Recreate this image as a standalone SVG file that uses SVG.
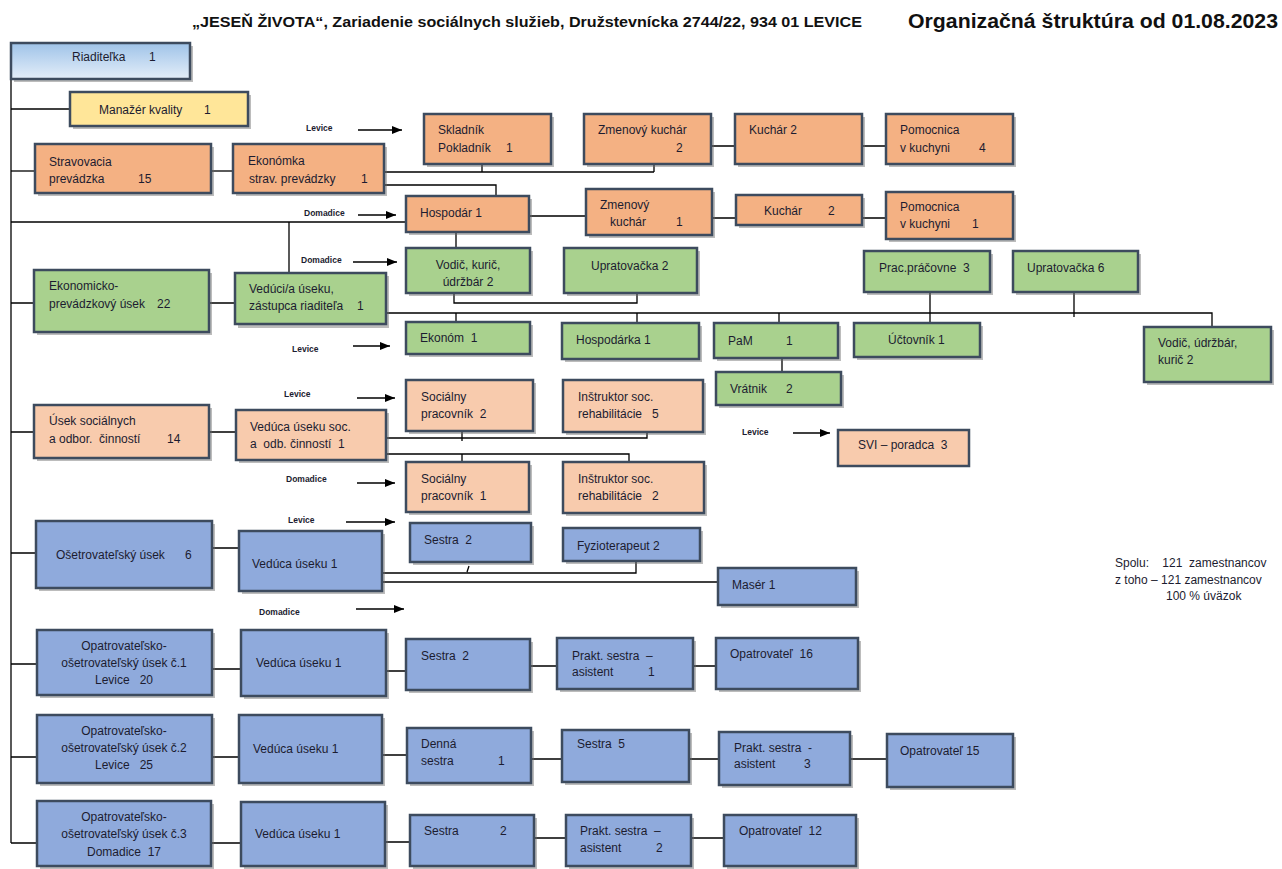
<svg xmlns="http://www.w3.org/2000/svg" width="1282" height="869" viewBox="0 0 1282 869" xml:space="preserve">
<defs>
<linearGradient id="gBlue" x1="0" y1="0" x2="0" y2="1">
<stop offset="0" stop-color="#9fc3e8"/>
<stop offset="1" stop-color="#e4eef9"/>
</linearGradient>
<marker id="arr" markerWidth="10" markerHeight="8" refX="10" refY="4" orient="auto" markerUnits="userSpaceOnUse">
<path d="M0,0 L10,4 L0,8 z" fill="#000"/>
</marker>
</defs>
<style>
.sh{fill:#6b6b6b;opacity:.45}
.b{stroke:#3d4b5e;stroke-width:2.5}
.or{fill:#f4b183}
.gr{fill:#a9d18e}
.sa{fill:#f8cbad}
.bl{fill:#8faadc}
.ye{fill:#ffe699}
.rb{fill:url(#gBlue)}
.t{font-family:"Liberation Sans",Arial,sans-serif;font-size:12px;fill:#1c1c30;white-space:pre}
.c{text-anchor:middle}
.lb{font-family:"Liberation Sans",Arial,sans-serif;font-size:8.5px;font-weight:bold;fill:#1c1c30}
.ln{fill:none;stroke:#000;stroke-width:1.3}
.ar{fill:none;stroke:#000;stroke-width:1.5}
.hd{font-family:"Liberation Sans",Arial,sans-serif;fill:#111}
</style>
<rect width="1282" height="869" fill="#fff"/>

<text class="hd" x="192" y="27" font-size="15.5" font-weight="bold" textLength="670" lengthAdjust="spacingAndGlyphs">„JESEŇ ŽIVOTA“, Zariadenie sociálnych služieb, Družstevnícka 2744/22, 934 01 LEVICE</text>
<text class="hd" x="908" y="28" font-size="21" font-weight="bold" textLength="370" lengthAdjust="spacingAndGlyphs">Organizačná štruktúra od 01.08.2023</text>

<g id="connectors">
<path class="ln" d="M11 79 V843"/>
<path class="ln" d="M11 109 H70"/>
<path class="ln" d="M11 171 H35"/>
<path class="ln" d="M211 171 H233"/>
<path class="ln" d="M11 222 H406"/>
<path class="ln" d="M289 222 V272"/>
<path class="ln" d="M384 172 H654 M482 164 V172 M654 164 V172"/>
<path class="ln" d="M384 185 H496 V196"/>
<path class="ln" d="M711 146 H735 M862 146 H886"/>
<path class="ln" d="M529 216 H586 M712 218 H736 M862 218 H886"/>
<path class="ln" d="M456 232 V248"/>
<path class="ln" d="M454 293 V303 H637 V293"/>
<path class="ln" d="M11 303 H34 M209 303 H235"/>
<path class="ln" d="M386 313 H1212 V327"/>
<path class="ln" d="M456 313 V322 M637 313 V323 M779 313 V323"/>
<path class="ln" d="M930 292 V323 M1074 292 V317"/>
<path class="ln" d="M782 358 V372"/>
<path class="ln" d="M11 432 H34 M209 432 H236"/>
<path class="ln" d="M386 438 H647 V432 M462 431 V441"/>
<path class="ln" d="M386 454 H629 V462 M462 454 V462"/>
<path class="ln" d="M11 553 H36 M212 548 H239"/>
<path class="ln" d="M382 573 H636 V561 M467 572 L469 566"/>
<path class="ln" d="M382 582 H718"/>
<path class="ln" d="M11 664 H37 M212 669 H241 M386 671 H406 M530 666 H557 M693 666 H716"/>
<path class="ln" d="M11 757 H37 M212 757 H239 M382 755 H407 M531 759 H562 M689 759 H719 M850 759 H887"/>
<path class="ln" d="M11 843 H37 M211 843 H241 M385 842 H410 M534 838 H566 M691 838 H724"/>
<path class="ar" marker-end="url(#arr)" d="M358 130 H402"/>
<path class="ar" marker-end="url(#arr)" d="M358 215 H396"/>
<path class="ar" marker-end="url(#arr)" d="M353 262 H397"/>
<path class="ar" marker-end="url(#arr)" d="M353 346 H390"/>
<path class="ar" marker-end="url(#arr)" d="M357 398 H395"/>
<path class="ar" marker-end="url(#arr)" d="M357 483 H395"/>
<path class="ar" marker-end="url(#arr)" d="M346 522 H395"/>
<path class="ar" marker-end="url(#arr)" d="M356 609 H404"/>
<path class="ar" marker-end="url(#arr)" d="M793 433 H830"/>
</g>

<g id="labels">
<text class="lb" x="306" y="131">Levice</text>
<text class="lb" x="304" y="216">Domadice</text>
<text class="lb" x="301" y="263">Domadice</text>
<text class="lb" x="292" y="352">Levice</text>
<text class="lb" x="284" y="397">Levice</text>
<text class="lb" x="286" y="482">Domadice</text>
<text class="lb" x="288" y="523">Levice</text>
<text class="lb" x="259" y="615">Domadice</text>
<text class="lb" x="742" y="435">Levice</text>
</g>

<g id="riaditelka"><rect class="sh" x="14" y="46" width="179" height="36"/><rect class="b rb" x="11" y="43" width="179" height="36"/><text class="t" x="72" y="61">Riaditeľka</text><text class="t" x="149" y="61">1</text></g>
<g id="manazer"><rect class="sh" x="73" y="95" width="178" height="34"/><rect class="b ye" x="70" y="92" width="178" height="34"/><text class="t" x="99" y="114">Manažér kvality</text><text class="t" x="204" y="114">1</text></g>
<g id="stravovacia"><rect class="sh" x="38" y="147" width="176" height="49"/><rect class="b or" x="35" y="144" width="176" height="49"/><text class="t" x="49" y="166">Stravovacia</text><text class="t" x="49" y="183">prevádzka</text><text class="t" x="138" y="183">15</text></g>
<g id="ekonomka"><rect class="sh" x="236" y="147" width="151" height="49"/><rect class="b or" x="233" y="144" width="151" height="49"/><text class="t" x="248" y="165">Ekonómka</text><text class="t" x="249" y="183">strav. prevádzky</text><text class="t" x="361" y="183">1</text></g>
<g id="skladnik"><rect class="sh" x="427" y="117" width="127" height="50"/><rect class="b or" x="424" y="114" width="127" height="50"/><text class="t" x="438" y="134">Skladník</text><text class="t" x="438" y="152">Pokladník</text><text class="t" x="506" y="152">1</text></g>
<g id="zmenovy2"><rect class="sh" x="587" y="117" width="127" height="50"/><rect class="b or" x="584" y="114" width="127" height="50"/><text class="t" x="598" y="134">Zmenový kuchár</text><text class="t" x="676" y="152">2</text></g>
<g id="kuchar2a"><rect class="sh" x="738" y="117" width="127" height="50"/><rect class="b or" x="735" y="114" width="127" height="50"/><text class="t" x="749" y="134">Kuchár 2</text></g>
<g id="pomocnica4"><rect class="sh" x="889" y="117" width="127" height="50"/><rect class="b or" x="886" y="114" width="127" height="50"/><text class="t" x="900" y="134">Pomocnica</text><text class="t" x="900" y="152">v kuchyni</text><text class="t" x="979" y="152">4</text></g>
<g id="hospodar"><rect class="sh" x="409" y="199" width="123" height="36"/><rect class="b or" x="406" y="196" width="123" height="36"/><text class="t" x="420" y="217">Hospodár 1</text></g>
<g id="zmenovy1"><rect class="sh" x="589" y="192" width="126" height="46"/><rect class="b or" x="586" y="189" width="126" height="46"/><text class="t" x="600" y="209">Zmenový</text><text class="t" x="610" y="226">kuchár</text><text class="t" x="676" y="226">1</text></g>
<g id="kuchar2b"><rect class="sh" x="739" y="198" width="126" height="30"/><rect class="b or" x="736" y="195" width="126" height="30"/><text class="t" x="764" y="215">Kuchár</text><text class="t" x="828" y="215">2</text></g>
<g id="pomocnica1"><rect class="sh" x="889" y="195" width="127" height="47"/><rect class="b or" x="886" y="192" width="127" height="47"/><text class="t" x="900" y="211">Pomocnica</text><text class="t" x="900" y="228">v kuchyni</text><text class="t" x="972" y="228">1</text></g>

<g id="ekonomicko"><rect class="sh" x="37" y="273" width="175" height="62"/><rect class="b gr" x="34" y="270" width="175" height="62"/><text class="t" x="49" y="290">Ekonomicko-</text><text class="t" x="49" y="308">prevádzkový úsek</text><text class="t" x="157" y="308">22</text></g>
<g id="veduci"><rect class="sh" x="238" y="276" width="151" height="52"/><rect class="b gr" x="235" y="273" width="151" height="51"/><text class="t" x="249" y="293">Vedúci/a úseku,</text><text class="t" x="249" y="310">zástupca riaditeľa</text><text class="t" x="357" y="310">1</text></g>
<g id="vodic"><rect class="sh" x="409" y="251" width="124" height="45"/><rect class="b gr" x="406" y="248" width="124" height="45"/><text class="t c" x="468" y="269">Vodič, kurič,</text><text class="t c" x="468" y="286">údržbár 2</text></g>
<g id="upratovacka2"><rect class="sh" x="567" y="251" width="133" height="45"/><rect class="b gr" x="564" y="248" width="133" height="45"/><text class="t" x="591" y="270">Upratovačka 2</text></g>
<g id="pracovne"><rect class="sh" x="867" y="254" width="126" height="41"/><rect class="b gr" x="864" y="251" width="126" height="41"/><text class="t" x="879" y="272">Prac.práčovne  3</text></g>
<g id="upratovacka6"><rect class="sh" x="1016" y="254" width="125" height="41"/><rect class="b gr" x="1013" y="251" width="125" height="41"/><text class="t" x="1027" y="272">Upratovačka 6</text></g>
<g id="ekonom"><rect class="sh" x="409" y="325" width="124" height="32"/><rect class="b gr" x="406" y="322" width="124" height="32"/><text class="t" x="420" y="342">Ekonóm  1</text></g>
<g id="hospodarka"><rect class="sh" x="565" y="326" width="137" height="36"/><rect class="b gr" x="562" y="323" width="137" height="36"/><text class="t" x="576" y="344">Hospodárka 1</text></g>
<g id="pam"><rect class="sh" x="717" y="326" width="124" height="35"/><rect class="b gr" x="714" y="323" width="124" height="35"/><text class="t" x="728" y="345">PaM</text><text class="t" x="786" y="345">1</text></g>
<g id="vratnik"><rect class="sh" x="719" y="375" width="125" height="33"/><rect class="b gr" x="716" y="372" width="125" height="33"/><text class="t" x="730" y="393">Vrátnik</text><text class="t" x="786" y="393">2</text></g>
<g id="uctovnik"><rect class="sh" x="857" y="326" width="126" height="34"/><rect class="b gr" x="854" y="323" width="126" height="34"/><text class="t" x="888" y="344">Účtovník 1</text></g>
<g id="vodic2"><rect class="sh" x="1147" y="330" width="127" height="55"/><rect class="b gr" x="1144" y="327" width="127" height="55"/><text class="t" x="1158" y="347">Vodič, údržbár,</text><text class="t" x="1158" y="364">kurič 2</text></g>

<g id="usek"><rect class="sh" x="37" y="408" width="175" height="53"/><rect class="b sa" x="34" y="405" width="175" height="53"/><text class="t" x="49" y="425">Úsek sociálnych</text><text class="t" x="49" y="443">a odbor.  činností</text><text class="t" x="167" y="443">14</text></g>
<g id="veduca_soc"><rect class="sh" x="239" y="413" width="150" height="50"/><rect class="b sa" x="236" y="410" width="150" height="50"/><text class="t" x="250" y="431">Vedúca úseku soc.</text><text class="t" x="250" y="448">a  odb. činností  1</text></g>
<g id="socialny2"><rect class="sh" x="409" y="383" width="127" height="51"/><rect class="b sa" x="406" y="380" width="127" height="51"/><text class="t" x="421" y="401">Sociálny</text><text class="t" x="421" y="418">pracovník  2</text></g>
<g id="instruktor5"><rect class="sh" x="566" y="383" width="140" height="52"/><rect class="b sa" x="563" y="380" width="140" height="52"/><text class="t" x="578" y="401">Inštruktor soc.</text><text class="t" x="578" y="418">rehabilitácie   5</text></g>
<g id="svi"><rect class="b sa" x="838" y="430" width="131" height="36" stroke-width="1.5"/><text class="t" x="858" y="449">SVI – poradca  3</text></g>
<g id="socialny1"><rect class="sh" x="409" y="465" width="123" height="50"/><rect class="b sa" x="406" y="462" width="123" height="50"/><text class="t" x="421" y="483">Sociálny</text><text class="t" x="421" y="500">pracovník  1</text></g>
<g id="instruktor2"><rect class="sh" x="566" y="465" width="141" height="51"/><rect class="b sa" x="563" y="462" width="141" height="51"/><text class="t" x="578" y="483">Inštruktor soc.</text><text class="t" x="578" y="500">rehabilitácie   2</text></g>

<g id="osetrovatelsky"><rect class="sh" x="39" y="524" width="176" height="67"/><rect class="b bl" x="36" y="521" width="176" height="67"/><text class="t" x="56" y="559">Ošetrovateľský úsek</text><text class="t" x="185" y="559">6</text></g>
<g id="veduca_os"><rect class="sh" x="242" y="534" width="143" height="60"/><rect class="b bl" x="239" y="531" width="143" height="60"/><text class="t" x="252" y="568">Vedúca úseku 1</text></g>
<g id="sestra2a"><rect class="sh" x="413" y="526" width="121" height="39"/><rect class="b bl" x="410" y="523" width="121" height="39"/><text class="t" x="424" y="544">Sestra  2</text></g>
<g id="fyzio"><rect class="sh" x="566" y="531" width="137" height="33"/><rect class="b bl" x="563" y="528" width="137" height="33"/><text class="t" x="577" y="550">Fyzioterapeut 2</text></g>
<g id="maser"><rect class="sh" x="721" y="571" width="138" height="37"/><rect class="b bl" x="718" y="568" width="138" height="37"/><text class="t" x="732" y="589">Masér 1</text></g>

<g id="opat1"><rect class="sh" x="40" y="633" width="175" height="65"/><rect class="b bl" x="37" y="630" width="175" height="65"/><text class="t c" x="124" y="650">Opatrovateľsko-</text><text class="t c" x="124" y="667">ošetrovateľský úsek č.1</text><text class="t c" x="124" y="684">Levice   20</text></g>
<g id="veduca1"><rect class="sh" x="244" y="633" width="145" height="66"/><rect class="b bl" x="241" y="630" width="145" height="66"/><text class="t" x="256" y="667">Vedúca úseku 1</text></g>
<g id="sestra2b"><rect class="sh" x="409" y="642" width="124" height="51"/><rect class="b bl" x="406" y="639" width="124" height="51"/><text class="t" x="421" y="660">Sestra  2</text></g>
<g id="prakt1"><rect class="sh" x="560" y="641" width="136" height="51"/><rect class="b bl" x="557" y="638" width="136" height="51"/><text class="t" x="572" y="660">Prakt. sestra  –</text><text class="t" x="572" y="676">asistent</text><text class="t" x="648" y="676">1</text></g>
<g id="opatr16"><rect class="sh" x="719" y="641" width="142" height="51"/><rect class="b bl" x="716" y="638" width="142" height="51"/><text class="t" x="730" y="658">Opatrovateľ  16</text></g>

<g id="opat2"><rect class="sh" x="40" y="718" width="175" height="68"/><rect class="b bl" x="37" y="715" width="175" height="68"/><text class="t c" x="124" y="735">Opatrovateľsko-</text><text class="t c" x="124" y="752">ošetrovateľský úsek č.2</text><text class="t c" x="124" y="769">Levice   25</text></g>
<g id="veduca2"><rect class="sh" x="242" y="718" width="143" height="68"/><rect class="b bl" x="239" y="715" width="143" height="68"/><text class="t" x="253" y="753">Vedúca úseku 1</text></g>
<g id="denna"><rect class="sh" x="410" y="731" width="124" height="55"/><rect class="b bl" x="407" y="728" width="124" height="55"/><text class="t" x="421" y="748">Denná</text><text class="t" x="421" y="765">sestra</text><text class="t" x="498" y="765">1</text></g>
<g id="sestra5"><rect class="sh" x="565" y="733" width="127" height="52"/><rect class="b bl" x="562" y="730" width="127" height="52"/><text class="t" x="577" y="748">Sestra  5</text></g>
<g id="prakt3"><rect class="sh" x="722" y="735" width="131" height="53"/><rect class="b bl" x="719" y="732" width="131" height="53"/><text class="t" x="734" y="752">Prakt. sestra  -</text><text class="t" x="734" y="768">asistent</text><text class="t" x="804" y="768">3</text></g>
<g id="opatr15"><rect class="sh" x="890" y="737" width="126" height="53"/><rect class="b bl" x="887" y="734" width="126" height="53"/><text class="t" x="900" y="755">Opatrovateľ 15</text></g>

<g id="opat3"><rect class="sh" x="40" y="804" width="174" height="65"/><rect class="b bl" x="37" y="801" width="174" height="65"/><text class="t c" x="124" y="821">Opatrovateľsko-</text><text class="t c" x="124" y="838">ošetrovateľský úsek č.3</text><text class="t c" x="124" y="856">Domadice  17</text></g>
<g id="veduca3"><rect class="sh" x="244" y="805" width="144" height="64"/><rect class="b bl" x="241" y="802" width="144" height="64"/><text class="t" x="255" y="838">Vedúca úseku 1</text></g>
<g id="sestra2c"><rect class="sh" x="413" y="818" width="124" height="51"/><rect class="b bl" x="410" y="815" width="124" height="51"/><text class="t" x="424" y="835">Sestra</text><text class="t" x="500" y="835">2</text></g>
<g id="prakt2"><rect class="sh" x="569" y="818" width="125" height="51"/><rect class="b bl" x="566" y="815" width="125" height="51"/><text class="t" x="580" y="835">Prakt. sestra  –</text><text class="t" x="580" y="852">asistent</text><text class="t" x="656" y="852">2</text></g>
<g id="opatr12"><rect class="sh" x="727" y="818" width="132" height="51"/><rect class="b bl" x="724" y="815" width="132" height="51"/><text class="t" x="739" y="835">Opatrovateľ  12</text></g>

<g id="summary">
<text class="t" x="1115" y="567" font-size="11.5">Spolu:    121  zamestnancov</text>
<text class="t" x="1115" y="584" font-size="11.5">z toho – 121 zamestnancov</text>
<text class="t" x="1166" y="600" font-size="11.5">100 % úväzok</text>
</g>
</svg>
